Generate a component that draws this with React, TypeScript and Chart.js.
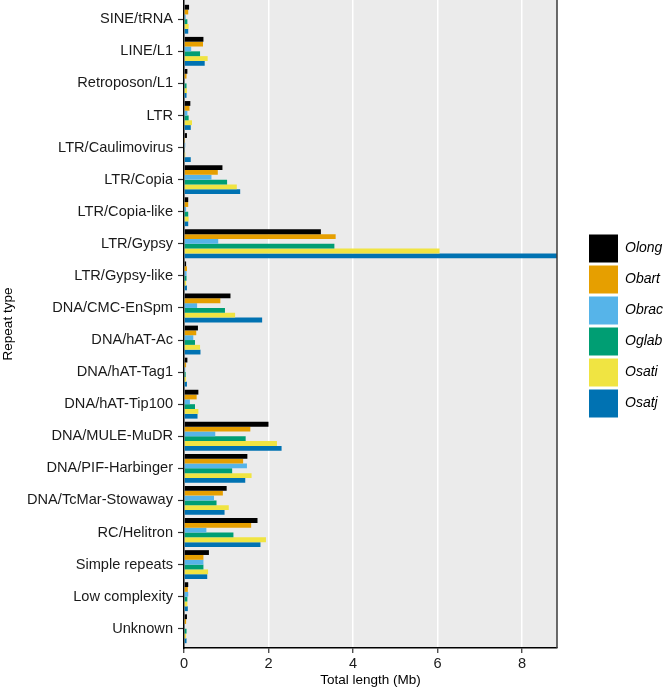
import React, { useEffect, useRef } from "react";
import { Chart, registerables } from "chart.js";

Chart.register(...registerables);

const categories = [
  "SINE/tRNA",
  "LINE/L1",
  "Retroposon/L1",
  "LTR",
  "LTR/Caulimovirus",
  "LTR/Copia",
  "LTR/Copia-like",
  "LTR/Gypsy",
  "LTR/Gypsy-like",
  "DNA/CMC-EnSpm",
  "DNA/hAT-Ac",
  "DNA/hAT-Tag1",
  "DNA/hAT-Tip100",
  "DNA/MULE-MuDR",
  "DNA/PIF-Harbinger",
  "DNA/TcMar-Stowaway",
  "RC/Helitron",
  "Simple repeats",
  "Low complexity",
  "Unknown",
];

const seriesNames = ["Olong", "Obart", "Obrac", "Oglab", "Osati", "Osatj"];
const seriesColors = ["#000000", "#E69F00", "#56B4E9", "#009E73", "#F0E442", "#0072B2"];

const olong = [0.12, 0.46, 0.08, 0.15, 0.07, 0.91, 0.1, 3.24, 0.05, 1.1, 0.33, 0.08, 0.34, 2.0, 1.5, 1.01, 1.74, 0.59, 0.1, 0.07];
const obart = [0.1, 0.45, 0.06, 0.13, 0.01, 0.8, 0.1, 3.59, 0.07, 0.86, 0.29, 0.05, 0.3, 1.57, 1.4, 0.92, 1.59, 0.46, 0.09, 0.05];
const obrac = [0.04, 0.17, 0.02, 0.08, 0.03, 0.65, 0.05, 0.81, 0.06, 0.31, 0.22, 0.03, 0.14, 0.74, 1.49, 0.71, 0.53, 0.46, 0.1, 0.02];
const oglab = [0.08, 0.38, 0.06, 0.11, 0.02, 1.02, 0.1, 3.56, 0.06, 0.97, 0.26, 0.04, 0.26, 1.46, 1.14, 0.77, 1.17, 0.46, 0.08, 0.06];
const osati = [0.11, 0.56, 0.07, 0.19, 0.03, 1.25, 0.11, 6.05, 0.05, 1.21, 0.38, 0.05, 0.34, 2.2, 1.6, 1.06, 1.94, 0.57, 0.08, 0.05];
const osatj = [0.1, 0.49, 0.06, 0.16, 0.16, 1.33, 0.1, 8.83, 0.07, 1.85, 0.39, 0.07, 0.32, 2.31, 1.45, 0.96, 1.81, 0.55, 0.09, 0.06];

const seriesValues = [olong, obart, obrac, oglab, osati, osatj];
const xTicks = [0, 2, 4, 6, 8];
const xMax = 8.83;

const FONT = "'Liberation Sans', Arial, Helvetica, sans-serif";

const panelPlugin = {
  id: "panel",
  beforeDraw(chart: any) {
    const { ctx, chartArea } = chart;
    ctx.save();
    ctx.fillStyle = "#EBEBEB";
    ctx.fillRect(chartArea.left, chartArea.top, chartArea.right - chartArea.left, chartArea.bottom - chartArea.top);
    ctx.restore();
  },
  afterDraw(chart: any) {
    const { ctx, chartArea } = chart;
    ctx.save();
    ctx.strokeStyle = "#3a3a3a";
    ctx.lineWidth = 1.5;
    ctx.beginPath();
    ctx.moveTo(chartArea.right, chartArea.top);
    ctx.lineTo(chartArea.right, chartArea.bottom);
    ctx.stroke();
    // legend
    const boxX = chartArea.right + 32;
    const boxW = 29;
    const boxH = 28;
    const pitch = 31;
    const total = seriesNames.length * pitch - (pitch - boxH);
    const startY = (chartArea.top + chartArea.bottom) / 2 - total / 2 + 2;
    ctx.font = "italic 14px " + FONT;
    ctx.textBaseline = "middle";
    ctx.textAlign = "left";
    seriesNames.forEach((name, i) => {
      const y = startY + i * pitch;
      ctx.fillStyle = seriesColors[i];
      ctx.fillRect(boxX, y, boxW, boxH);
      ctx.fillStyle = "#000000";
      ctx.fillText(name, boxX + boxW + 7, y + boxH / 2);
    });
    ctx.restore();
  },
};

export default function App() {
  const ref = useRef<HTMLCanvasElement | null>(null);

  useEffect(() => {
    if (!ref.current) return;
    const datasets = seriesNames.map((name, si) => ({
      label: name,
      data: seriesValues[si].map((v, i) => ({ x: v, y: i })),
      backgroundColor: seriesColors[si],
      borderWidth: 0,
      categoryPercentage: 0.9,
      barPercentage: 1.0,
    }));
    const chart = new Chart(ref.current, {
      type: "bar",
      data: { datasets },
      plugins: [panelPlugin],
      options: {
        indexAxis: "y",
        animation: false,
        responsive: false,
        maintainAspectRatio: false,
        layout: { padding: { left: 0, top: 0, right: 108, bottom: 0 } },
        plugins: {
          legend: { display: false },
          tooltip: { enabled: false },
        },
        scales: {
          x: {
            type: "linear",
            min: 0,
            max: xMax,
            offset: false,
            afterBuildTicks: (scale: any) => {
              scale.ticks = xTicks.map((v) => ({ value: v }));
            },
            afterFit: (scale: any) => {
              scale.height = 46;
              scale.paddingLeft = 0;
              scale.paddingRight = 0;
            },
            grid: {
              offset: false,
              color: "#FFFFFF",
              lineWidth: 1.5,
              drawTicks: true,
              tickLength: 5,
              tickColor: "#333333",
              tickWidth: 1.2,
            },
            border: { display: true, color: "#000000", width: 1.5 },
            ticks: {
              padding: 2,
              color: "#1a1a1a",
              font: { family: FONT, size: 14.6 },
              callback: (v: any) => String(v),
            },
            title: {
              display: true,
              text: "Total length (Mb)",
              color: "#000000",
              font: { family: FONT, size: 13.5 },
              padding: { top: 0, bottom: 6 },
            },
          },
          y: {
            type: "linear",
            reverse: true,
            offset: false,
            min: -0.6,
            max: categories.length - 1 + 0.6,
            afterBuildTicks: (scale: any) => {
              scale.ticks = categories.map((_, i) => ({ value: i }));
            },
            afterFit: (scale: any) => {
              scale.width = 184;
              scale.paddingTop = 0;
              scale.paddingBottom = 0;
            },
            grid: {
              offset: false,
              drawOnChartArea: false,
              drawTicks: true,
              tickLength: 6,
              tickColor: "#333333",
              tickWidth: 1.2,
            },
            border: { display: true, color: "#000000", width: 1.5 },
            ticks: {
              padding: 5,
              color: "#1a1a1a",
              autoSkip: false,
              font: { family: FONT, size: 14.6 },
              callback: (v: any) => categories[v as number] ?? "",
            },
            title: {
              display: true,
              text: "Repeat type",
              color: "#000000",
              font: { family: FONT, size: 13.5 },
              padding: { top: 0, bottom: 0 },
            },
          },
        },
      },
    } as any);
    return () => chart.destroy();
  }, []);

  return (
    <div style={{ position: "fixed", left: 0, top: 0, width: 665, height: 694, background: "#ffffff" }}>
      <canvas ref={ref} width={665} height={694} style={{ display: "block", width: 665, height: 694 }} />
    </div>
  );
}
